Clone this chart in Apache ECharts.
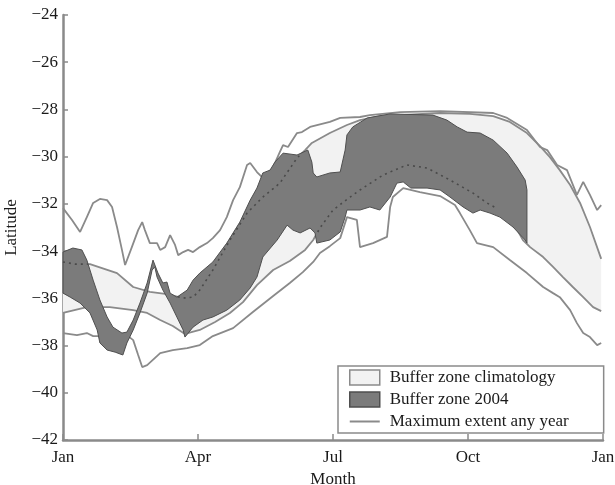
<!DOCTYPE html>
<html><head><meta charset="utf-8">
<script src="https://cdn.jsdelivr.net/npm/echarts@6/dist/echarts.min.js"></script>
<style>html,body{margin:0;padding:0;background:#fff}#c{width:615px;height:485px}</style>
</head><body><div id="c"></div>
<script>
// x = month index (0 = Jan 1, 12 = next Jan 1), y = latitude (deg)
const monthLabels = ['Jan', 'Apr', 'Jul', 'Oct', 'Jan'];

const maxNorth = [[0,-32.18],[0.2,-32.68],[0.38,-33.19],[0.53,-32.56],[0.67,-31.96],[0.82,-31.79],[0.98,-31.84],[1.09,-32.13],[1.2,-32.98],[1.31,-33.95],[1.38,-34.59],[1.53,-33.83],[1.67,-33.11],[1.76,-32.77],[1.82,-33.11],[1.93,-33.66],[2.09,-33.66],[2.16,-33.95],[2.27,-33.83],[2.38,-33.32],[2.49,-33.74],[2.56,-34.17],[2.67,-34.04],[2.78,-33.95],[2.89,-34.04],[3.04,-33.83],[3.2,-33.66],[3.33,-33.45],[3.49,-33.11],[3.64,-32.56],[3.78,-31.84],[3.93,-31.29],[4.09,-30.35],[4.16,-30.27],[4.31,-30.65],[4.44,-30.9],[4.56,-30.65],[4.64,-30.57],[4.82,-29.8],[4.89,-29.51],[5.0,-29.59],[5.2,-29.0],[5.31,-28.96],[5.49,-28.74],[5.93,-28.53],[6.16,-28.36],[6.6,-28.32],[6.82,-28.24],[7.49,-28.11],[8.38,-28.07],[9.56,-28.15],[9.87,-28.36],[10.31,-28.87],[10.6,-29.59],[10.76,-29.72],[10.98,-30.35],[11.2,-30.57],[11.42,-31.62],[11.56,-31.07],[11.71,-31.62],[11.87,-32.26],[11.96,-32.05]];

const maxSouth = [[0,-37.47],[0.31,-37.56],[0.53,-37.47],[0.67,-37.6],[1.04,-37.6],[1.42,-37.56],[1.56,-37.77],[1.67,-38.4],[1.76,-38.91],[1.87,-38.83],[2.16,-38.32],[2.44,-38.19],[2.76,-38.11],[3.04,-37.98],[3.33,-37.6],[3.78,-37.26],[4.22,-36.58],[4.67,-35.9],[5.04,-35.35],[5.33,-34.89],[5.56,-34.46],[5.71,-34.08],[5.93,-33.79],[6.16,-33.45],[6.31,-32.56],[6.53,-32.68],[6.6,-33.83],[6.89,-33.66],[7.2,-33.4],[7.27,-32.13],[7.33,-31.71],[7.56,-31.33],[7.93,-31.5],[8.38,-31.67],[8.71,-32.05],[8.82,-32.39],[9.04,-33.11],[9.2,-33.66],[9.56,-33.83],[9.93,-34.38],[10.31,-34.93],[10.67,-35.52],[10.89,-35.78],[11.04,-35.95],[11.27,-36.5],[11.42,-37.05],[11.56,-37.47],[11.71,-37.64],[11.87,-37.98],[11.96,-37.89]];

const climNorth = [[0,-34.46],[0.27,-34.55],[0.6,-34.55],[1.2,-34.93],[1.56,-35.52],[1.93,-35.73],[2.31,-35.82],[2.67,-35.99],[2.89,-35.95],[3.04,-35.65],[3.33,-34.8],[3.71,-33.53],[4.09,-32.39],[4.44,-31.71],[4.82,-31.12],[5.2,-30.06],[5.38,-29.72],[5.53,-29.42],[5.93,-29.0],[6.31,-28.66],[6.6,-28.45],[7.04,-28.28],[7.49,-28.24],[8.38,-28.15],[9.04,-28.19],[9.56,-28.28],[9.93,-28.53],[10.31,-29.0],[10.6,-29.55],[10.82,-30.02],[11.04,-30.57],[11.27,-31.2],[11.49,-31.96],[11.71,-32.98],[11.96,-34.33]];

const climSouth = [[0,-36.62],[0.53,-36.37],[1.04,-36.37],[1.56,-36.5],[1.87,-36.62],[2.16,-36.92],[2.44,-37.17],[2.71,-37.51],[3.04,-37.34],[3.38,-37.0],[3.71,-36.62],[4.0,-36.16],[4.31,-35.44],[4.67,-34.8],[5.04,-34.42],[5.38,-33.95],[5.56,-33.53],[5.71,-33.02],[6.0,-32.26],[6.38,-31.71],[6.6,-31.41],[7.11,-30.78],[7.64,-30.35],[8.09,-30.48],[8.6,-30.99],[9.11,-31.54],[9.42,-31.96],[9.71,-32.26],[10.0,-32.77],[10.22,-33.53],[10.38,-33.83],[10.67,-34.25],[10.89,-34.67],[11.11,-35.1],[11.33,-35.52],[11.56,-35.95],[11.78,-36.37],[11.96,-36.54]];

const zone2004North = [[0,-34.04],[0.22,-33.87],[0.42,-33.95],[0.53,-34.38],[0.67,-35.23],[0.82,-36.07],[0.98,-36.79],[1.11,-37.22],[1.31,-37.47],[1.42,-37.43],[1.56,-36.92],[1.71,-36.2],[1.87,-35.35],[2.0,-34.38],[2.11,-34.93],[2.22,-35.35],[2.31,-35.31],[2.38,-35.78],[2.53,-35.95],[2.6,-35.86],[2.76,-35.65],[2.89,-35.23],[3.04,-34.93],[3.33,-34.46],[3.64,-33.66],[3.93,-32.77],[4.16,-31.84],[4.31,-31.33],[4.44,-30.69],[4.6,-30.57],[4.71,-30.23],[4.89,-29.85],[5.2,-29.93],[5.44,-29.72],[5.53,-30.23],[5.56,-30.69],[5.64,-30.86],[5.93,-30.69],[6.16,-30.65],[6.27,-29.72],[6.31,-29.08],[6.44,-28.74],[6.76,-28.36],[7.27,-28.19],[8.22,-28.24],[8.53,-28.45],[8.76,-28.74],[8.98,-28.96],[9.27,-29.0],[9.56,-29.3],[9.87,-29.85],[10.09,-30.44],[10.27,-30.99],[10.31,-31.41]];

const zone2004South = [[0,-35.78],[0.16,-35.95],[0.38,-36.2],[0.6,-36.62],[0.76,-37.34],[0.82,-37.89],[0.98,-38.19],[1.16,-38.28],[1.33,-38.4],[1.42,-37.89],[1.56,-37.34],[1.71,-36.62],[1.87,-35.78],[1.98,-34.8],[2.04,-34.67],[2.09,-35.1],[2.22,-35.65],[2.38,-36.2],[2.53,-36.79],[2.67,-37.34],[2.71,-37.64],[2.89,-37.22],[3.11,-36.92],[3.33,-36.79],[3.64,-36.5],[3.93,-36.07],[4.16,-35.56],[4.31,-35.1],[4.44,-34.25],[4.76,-33.53],[4.98,-32.9],[5.11,-33.11],[5.27,-33.23],[5.49,-33.02],[5.6,-33.23],[5.64,-33.66],[5.93,-33.53],[6.16,-33.19],[6.27,-32.56],[6.31,-32.26],[6.6,-32.26],[6.82,-32.13],[7.04,-32.26],[7.27,-31.71],[7.42,-31.12],[7.56,-31.07],[7.73,-31.33],[8.09,-31.33],[8.38,-31.41],[8.6,-31.71],[8.89,-32.13],[9.11,-32.39],[9.27,-32.26],[9.49,-32.39],[9.71,-32.56],[10.0,-32.98],[10.27,-33.53],[10.31,-33.66]];

// month ranges where the climatology edges run underneath the 2004 band (drawn dotted)
const hiddenNorthRanges = [[0, 0.55], [2.55, 5.25]];
const hiddenSouthRanges = [[5.66, 9.6]];

function interpAt(arr, t) {
  for (let i = 0; i < arr.length - 1; i++) {
    const [x0, y0] = arr[i], [x1, y1] = arr[i + 1];
    if (t >= x0 && t <= x1) return [t, y0 + (y1 - y0) * (t - x0) / (x1 - x0)];
  }
  return arr[arr.length - 1];
}
function segment(arr, a, b) {
  const out = [interpAt(arr, a)];
  arr.forEach(p => { if (p[0] > a && p[0] < b) out.push(p); });
  out.push(interpAt(arr, b));
  return out;
}

const SERIF = "'Liberation Serif','Times New Roman',serif";
const GRAY = '#8a8a8a';
const LIGHT = '#f2f2f2';
const DARK = '#7b7b7b';
const TXT = '#1a1a1a';

function bandSeries(name, upper, lower, fill, stroke, lw, z) {
  return {
    name, type: 'custom', z, silent: true,
    itemStyle: { color: fill },
    data: [[0, upper[0][1]]],
    renderItem: function (params, api) {
      const pts = upper.map(p => api.coord(p)).concat(lower.slice().reverse().map(p => api.coord(p)));
      return { type: 'polygon', shape: { points: pts }, style: { fill: fill, stroke: stroke, lineWidth: lw } };
    }
  };
}
function lineSeries(name, data, color, width, z, type) {
  return {
    name, type: 'line', data, z, showSymbol: false, symbol: 'none', silent: true,
    lineStyle: { color, width, type: type || 'solid' }, itemStyle: { color }
  };
}

const series = [
  bandSeries('Buffer zone climatology', climNorth, climSouth, LIGHT, null, 0, 1),
  lineSeries('climN', climNorth, GRAY, 1.8, 2),
  lineSeries('climS', climSouth, GRAY, 1.8, 2),
  lineSeries('Maximum extent any year', maxNorth, GRAY, 1.8, 2),
  lineSeries('Maximum extent any year', maxSouth, GRAY, 1.8, 2),
  bandSeries('Buffer zone 2004', zone2004North, zone2004South, DARK, '#4f4f4f', 1, 3)
];
hiddenNorthRanges.forEach(r => series.push(lineSeries('hiddenN', segment(climNorth, r[0], r[1]), '#4a4a4a', 1.6, 4, [2, 4])));
hiddenSouthRanges.forEach(r => series.push(lineSeries('hiddenS', segment(climSouth, r[0], r[1]), '#4a4a4a', 1.6, 4, [2, 4])));

const chart = echarts.init(document.getElementById('c'), null, { renderer: 'canvas' });
chart.setOption({
  animation: false,
  backgroundColor: '#fff',
  grid: { left: 63, right: 12, top: 15, bottom: 45, containLabel: false, outerBoundsMode: 'none' },
  xAxis: {
    type: 'value', min: 0, max: 12, interval: 3,
    name: 'Month', nameLocation: 'middle', nameGap: 26,
    nameTextStyle: { fontFamily: SERIF, fontSize: 17, color: TXT },
    axisLine: { show: true, lineStyle: { color: GRAY, width: 2.5 } },
    axisTick: { show: true, inside: true, length: 6, lineStyle: { color: GRAY, width: 1.5 } },
    axisLabel: { formatter: v => monthLabels[Math.round(v / 3)], fontFamily: SERIF, fontSize: 17, color: TXT, margin: 9 },
    splitLine: { show: false }
  },
  yAxis: {
    type: 'value', min: -42, max: -24, interval: 2,
    name: 'Latitude', nameLocation: 'middle', nameGap: 33, nameRotate: 90,
    nameTextStyle: { fontFamily: SERIF, fontSize: 17, color: TXT },
    axisLine: { show: true, lineStyle: { color: GRAY, width: 2.5 } },
    axisTick: { show: true, inside: true, length: 5, lineStyle: { color: GRAY, width: 1.5 } },
    axisLabel: { formatter: v => String(v).replace('-', '\u2212'), fontFamily: SERIF, fontSize: 17, color: TXT, margin: 5 },
    splitLine: { show: false }
  },
  legend: {
    orient: 'vertical', left: 338, top: 366,
    padding: [3, 35, 3, 11], itemWidth: 30, itemHeight: 15, itemGap: 5,
    borderColor: GRAY, borderWidth: 1.5, backgroundColor: '#fff',
    selectedMode: false,
    textStyle: { fontFamily: SERIF, fontSize: 17, color: TXT, padding: [0, 0, 0, 5] },
    data: [
      { name: 'Buffer zone climatology', icon: 'rect', itemStyle: { color: LIGHT, borderColor: GRAY, borderWidth: 1.5 } },
      { name: 'Buffer zone 2004', icon: 'rect', itemStyle: { color: DARK, borderColor: '#4f4f4f', borderWidth: 1.5 } },
      { name: 'Maximum extent any year', icon: 'path://M0,0 L30,0 L30,2 L0,2 Z', itemStyle: { color: GRAY, borderWidth: 0 } }
    ]
  },
  series
});
</script></body></html>
